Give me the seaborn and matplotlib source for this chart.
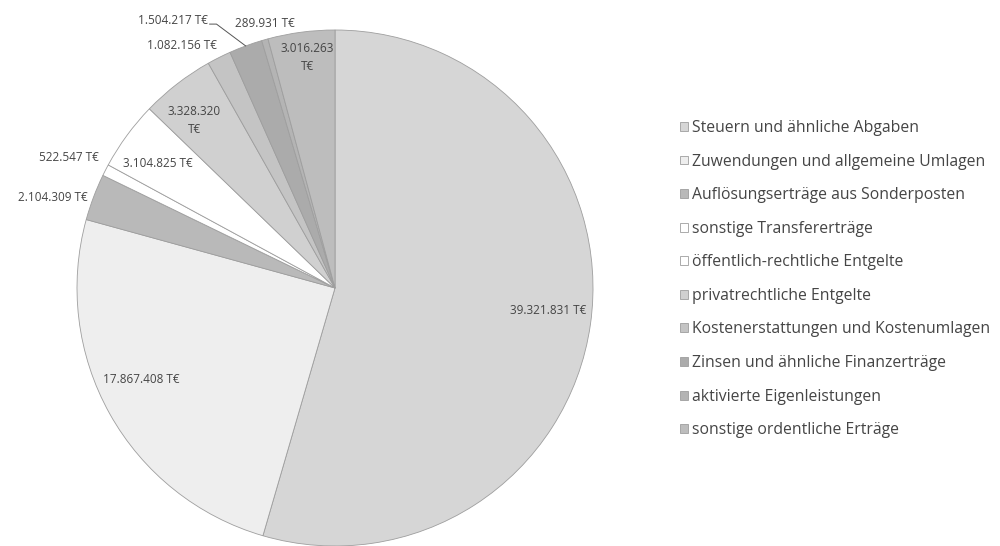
import matplotlib
matplotlib.use("Agg")
import numpy as np
import matplotlib.pyplot as plt
import seaborn as sns

# Ordentliche Erträge, Werte in T€
categories = [
    "Steuern und ähnliche Abgaben",
    "Zuwendungen und allgemeine Umlagen",
    "Auflösungserträge aus Sonderposten",
    "sonstige Transfererträge",
    "öffentlich-rechtliche Entgelte",
    "privatrechtliche Entgelte",
    "Kostenerstattungen und Kostenumlagen",
    "Zinsen und ähnliche Finanzerträge",
    "aktivierte Eigenleistungen",
    "sonstige ordentliche Erträge",
]
values_teur = [39321831, 17867408, 2104309, 522547, 3104825,
               3328320, 1082156, 1504217, 289931, 3016263]

sns.set_theme(style="white")
plt.rcParams["font.family"] = ["Open Sans", "DejaVu Sans"]

slice_colors = ["#d6d6d6", "#eeeeee", "#b9b9b9", "#ffffff", "#ffffff",
                "#d0d0d0", "#c4c4c4", "#ababab", "#b4b4b4", "#bdbdbd"]

# label placement per slice: radius factor, angle nudge (deg), alignment, line break
label_style = [
    (0.83, 2.0, "center", False),
    (0.83, -4.0, "center", False),
    (1.15, 2.8, "center", False),
    (1.15, 1.0, "center", False),
    (0.84, 1.3, "center", False),
    (0.85, 2.3, "center", True),
    (1.11, 5.5, "center", False),
    (1.15, 5.2, "right", False),
    (1.06, -1.0, "center", False),
    (0.90, -0.6, "center", True),
]


def fmt_teur(v, wrap):
    s = f"{v:,}".replace(",", ".")
    return s + ("\nT€" if wrap else " T€")


W, H = 1000, 546
fig = plt.figure(figsize=(W / 100, H / 100), dpi=100)
ax = fig.add_axes([0, 0, 1, 1])

cx, cy, rad = 335, 258, 258
wedges, _ = ax.pie(
    values_teur,
    colors=slice_colors,
    startangle=90,
    counterclock=False,
    center=(cx, cy),
    radius=rad,
    wedgeprops=dict(edgecolor="#9e9e9e", linewidth=0.6),
)
ax.set_xlim(0, W)
ax.set_ylim(0, H)
ax.set_aspect("equal")
ax.axis("off")

txt_color = "#454545"
for w, v, (rf, dth, ha, wrap) in zip(wedges, values_teur, label_style):
    mid = np.deg2rad((w.theta1 + w.theta2) / 2 + dth)
    x = cx + rf * rad * np.cos(mid)
    y = cy + rf * rad * np.sin(mid)
    ax.text(x, y, fmt_teur(v, wrap), ha=ha, va="center", fontsize=8.5,
            color=txt_color, linespacing=1.5)

# leader line for the small interest slice
zw = wedges[7]
rf, dth, _, _ = label_style[7]
m_lab = np.deg2rad((zw.theta1 + zw.theta2) / 2 + dth)
m_edge = np.deg2rad((zw.theta1 + zw.theta2) / 2)
lx = cx + rf * rad * np.cos(m_lab)
ly = cy + rf * rad * np.sin(m_lab)
ex = cx + rad * np.cos(m_edge)
ey = cy + rad * np.sin(m_edge)
ax.plot([lx + 2, lx + 9, ex], [ly - 4, ly - 4, ey], color="#555555", lw=0.7)

fig.legend(
    wedges, categories,
    loc="upper left",
    bbox_to_anchor=(680 / W, 1 - 120 / H),
    frameon=False,
    fontsize=11.3,
    labelcolor=txt_color,
    labelspacing=1.12,
    handlelength=0.5,
    handleheight=0.5,
    handletextpad=0.25,
    borderpad=0,
    borderaxespad=0,
)

fig.savefig("out.png", dpi=100, facecolor="white")
